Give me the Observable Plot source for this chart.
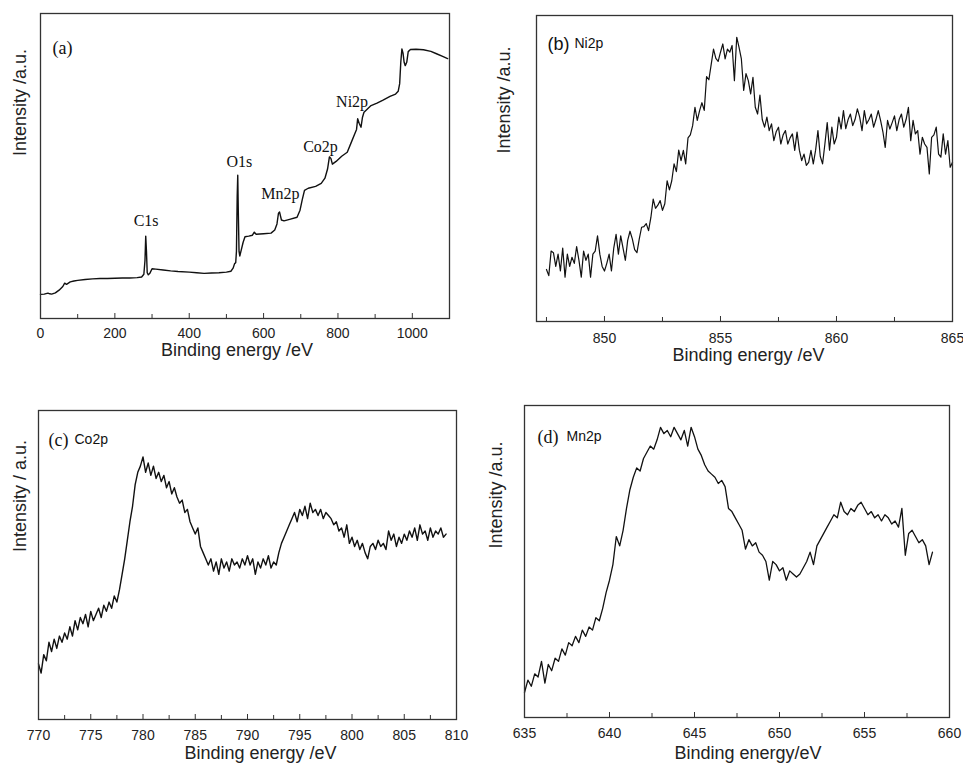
<!DOCTYPE html>
<html>
<head>
<meta charset="utf-8">
<script src="https://cdn.jsdelivr.net/npm/d3@7"></script>
<script src="https://cdn.jsdelivr.net/npm/@observablehq/plot@0.6"></script>
<style>
  html, body { margin: 0; padding: 0; background: #fff; }
  #root { position: relative; width: 963px; height: 768px; overflow: hidden; background: #fff; }
</style>
</head>
<body>
<div id="root"></div>
<script>
// ---------- DATA (intensity in arbitrary units, 0 = bottom of frame, 100 = top) ----------
// (a) survey spectrum
const surveyEnergy = [0,10,20,25,30,40,50,60,65,70,80,90,100,120,140,160,180,200,220,240,260,272,278,281,283,285,287,290,294,300,310,330,350,370,400,420,440,460,480,500,512,518,522,525,527,529,530.5,532,534,536,540,545,550,560,570,575,580,600,620,630,636,640,643,648,655,670,690,698,704,710,720,740,755,765,772,777,781,785,795,810,825,835,845,850,853,857,862,866,870,875,889,905,920,940,955,962,966,969,972,975,978,981,985,989,995,1010,1030,1050,1065,1080,1095];
const surveyIntensity = [7.9,8.0,8.3,8.1,8.0,8.4,9.3,10.5,11.6,11.2,12.0,12.3,12.5,12.8,13.0,13.1,13.1,13.2,13.3,13.3,13.4,13.6,14.5,19,27,22,15,14.3,14.8,16.3,16.2,15.9,15.6,15.4,15.2,15.0,14.8,14.9,15.0,15.2,15.5,16.5,18.0,18.3,22,40,47,35,22,20.5,22.5,25,26.8,27.0,27.3,28.3,27.6,27.8,28.0,29,31,34.5,34.9,32.3,32.0,32.5,33.2,35.5,39,42,42.7,43.3,44.3,46,49,53,52.5,50.6,51.5,53.2,54.5,57.5,60.5,62,65.5,64,62.7,66,67.6,68.2,69.8,70.6,71.5,72.8,73.6,74.5,77,84,88.4,87,84,82.9,84,87.5,88.2,88.3,88.1,87.6,86.8,86.0,85.2];
const peakLabels = ["C1s","O1s","Mn2p","Co2p","Ni2p"];
const peakLabelEnergy = [284,535,645,753,838];
const peakLabelIntensity = [32.1,51.5,40.7,56.2,71.1];

// (b) Ni2p, sampled every 0.1 eV from 847.5 eV
const niStart = 847.5, niStep = 0.1;
const niIntensity = [
17,15,23,22.5,18,22,16.5,24,14.5,22,
18,21,19,24.5,20,14.5,23,20,22,14.5,
22,23,28,22,18,16.5,19,22,16.5,24,
28.5,22,28,24,20,26.5,29.5,27,23.5,22.5,
27,30.8,31,32,29.7,34,40,37,38,39.5,
36.3,38.5,46,43,46,51.5,49,56,52.6,55.9,
51.5,60,61,64,70,65.7,68.9,71.5,69,80,
79,84,89,86,85,88,90.7,85.8,89,88,
90.2,78.7,92.9,89.6,85.8,75.5,81,78.7,74.4,79.8,
70,67.8,74,66,63.5,66.8,62.4,64.6,59.1,62,
63.5,58,61,62.4,58,60,61.3,55.9,61.9,56,
52.6,54.7,51,52,55.9,51.5,56,62.4,54,51.5,
58,65,56,63.5,58,60.2,66.8,62.9,68.9,63,
66,67.8,64,66,69.5,66.8,62.4,68.9,64.6,66,
67.8,63.5,66,68.9,65.7,62,56.9,65.7,62.9,65,
67.2,62.4,66,67.8,63.5,66,70,59.1,65.7,61.3,
62.4,54.7,60.2,58,56.9,48.2,60.2,61,63.5,54.7,
53.7,61.3,54.7,59.1,50.4,52];

// (c) Co2p, sampled every 0.25 eV from 770 eV
const coStart = 770, coStep = 0.25;
const coIntensity = [
18,15,21,19, 25,22,26,23, 27,25,28,26, 30,27,32,29, 33,31,34,30,
35,32,34,36, 33,37,35,38, 36,40,38,42, 47,52,58,64, 69,76,80,82,
85,80,83,79, 82,78,80,77, 79,75,77,73, 75,72,70,71, 67,68,64,62,
60,62,56,54, 52,50,52,48, 51,47,52,49, 51,48,52,50, 51,49,52,50,
53,50,52,47, 51,49,52,50, 53,49,51,50, 54,57,59,61, 63,65,67,64,
68,66,69,65, 70,67,68,66, 68,65,67,66, 65,63,64,61, 62,59,63,57,
59,56,58,55, 57,54,52,56, 57,55,58,56, 57,55,61,58, 60,56,59,57,
60,58,61,59, 62,58,63,60, 61,58,62,59, 61,60,62,59, 60];

// (d) Mn2p, sampled every 0.2 eV from 635 eV
const mnStart = 635, mnStep = 0.2;
const mnIntensity = [
8,12,10,14,13, 18,11,17,15,19, 18,22,20,24,23, 26,24,28,26,29,
28,32,31,35,40, 44,49,58,55,60, 67,73,77,80,79, 83,85,87,86,89,
93,91,92,90,93, 91,89,92,87,93, 90,86,84,81,79, 78,77,75,76,74,
67,66,64,62,60, 54,57,55,56,53, 52,50,44,50,49, 47,48,44,47,46,
45,46,48,50,53, 49,55,57,59,61, 63,65,64,69,66, 65,67,66,68,69,
67,65,66,64,65, 63,65,64,62,63, 61,67,52,59,60, 58,56,57,55,49, 53];

// axis ticks
const surveyMajor = [0,200,400,600,800,1000], surveyMinor = [100,300,500,700,900];
const niMajor = [850,855,860,865], niMinor = [847.5,852.5,857.5,862.5];
const coMajor = [770,775,780,785,790,795,800,805,810], coMinor = [772.5,777.5,782.5,787.5,792.5,797.5,802.5,807.5];
const mnMajor = [635,640,645,650,655,660], mnMinor = [637.5,642.5,647.5,652.5,657.5];

// ---------- BUILD ----------
const SANS = "Arial, 'Liberation Sans', sans-serif";
const SERIF = "'Times New Roman', 'Liberation Serif', serif";

const survey = surveyEnergy.map((e, i) => ({e, v: surveyIntensity[i]}));
const grid = (start, step, vals) => vals.map((v, i) => ({e: +(start + i * step).toFixed(3), v}));
const ni = grid(niStart, niStep, niIntensity);
const co = grid(coStart, coStep, coIntensity);
const mn = grid(mnStart, mnStep, mnIntensity);
const peaks = peakLabels.map((label, i) => ({label, e: peakLabelEnergy[i], v: peakLabelIntensity[i]}));

function panel(p) {
  const innerH = p.H - p.mt - p.mb;
  const svg = Plot.plot({
    width: p.W, height: p.H,
    marginLeft: p.ml, marginTop: p.mt, marginRight: p.mr, marginBottom: p.mb,
    x: {domain: p.domain, axis: null},
    y: {domain: [0, 100], axis: null},
    style: {fontFamily: SANS, background: "white", color: "#222", overflow: "visible"},
    marks: [
      Plot.line(p.data, {x: "e", y: "v", stroke: "#111", strokeWidth: p.sw}),
      Plot.tickX(p.majors, {x: d => d, insetTop: innerH - 5, stroke: "#333", strokeWidth: 1}),
      Plot.tickX(p.minors, {x: d => d, insetTop: innerH - 4, stroke: "#333", strokeWidth: 1}),
      Plot.axisX({ticks: p.majors, tickSize: 0, tickPadding: p.tickPad, fontSize: 14, tickFormat: d => String(d), label: null}),
      Plot.frame({stroke: "#333", strokeWidth: 1.3}),
      Plot.text([p.xTitle], {text: d => d, frameAnchor: "bottom", dx: p.xdx, dy: p.xdy, fontSize: 18, fill: "#222"}),
      Plot.text([p.yTitle], {text: d => d, frameAnchor: "left", rotate: -90, dx: p.ydx, dy: p.ydy, fontSize: 18, fill: "#222"}),
      ...p.extra
    ]
  });
  svg.style.position = "absolute";
  svg.style.left = p.left + "px";
  svg.style.top = p.top + "px";
  document.getElementById("root").appendChild(svg);
}

panel({
  data: survey, domain: [0, 1100], majors: surveyMajor, minors: surveyMinor, sw: 1.4,
  left: 0, top: 0, W: 460, H: 365, ml: 40, mt: 13, mr: 11, mb: 47, tickPad: 10,
  xTitle: "Binding energy /eV", xdx: -8, xdy: 37,
  yTitle: "Intensity /a.u.", ydx: -20, ydy: -10,
  extra: [
    Plot.text(["(a)"], {text: d => d, frameAnchor: "top-left", textAnchor: "start", dx: 12, dy: 28, fontSize: 18, fontFamily: SERIF, fill: "#111"}),
    Plot.text(peaks, {x: "e", y: "v", text: "label", fontSize: 16, fontFamily: SERIF, fill: "#111"})
  ]
});

panel({
  data: ni, domain: [847.07, 865], majors: niMajor, minors: niMinor, sw: 1.2,
  left: 480, top: 0, W: 483, H: 370, ml: 56, mt: 15, mr: 11, mb: 49, tickPad: 12,
  xTitle: "Binding energy /eV", xdx: 4, xdy: 39,
  yTitle: "Intensity /a.u.", ydx: -32, ydy: -15,
  extra: [
    Plot.text(["(b)"], {text: d => d, frameAnchor: "top-left", textAnchor: "start", dx: 11, dy: 22, fontSize: 18, fill: "#111"}),
    Plot.text(["Ni2p"], {text: d => d, frameAnchor: "top-left", textAnchor: "start", dx: 38, dy: 23, fontSize: 14, fill: "#111"})
  ]
});

panel({
  data: co, domain: [770, 810], majors: coMajor, minors: coMinor, sw: 1.4,
  left: 0, top: 380, W: 470, H: 388, ml: 38, mt: 30, mr: 14, mb: 49, tickPad: 11,
  xTitle: "Binding energy /eV", xdx: 13, xdy: 39,
  yTitle: "Intensity / a.u.", ydx: -18, ydy: -13,
  extra: [
    Plot.text(["(c)"], {text: d => d, frameAnchor: "top-left", textAnchor: "start", dx: 10, dy: 23, fontSize: 18, fontFamily: SERIF, fill: "#111"}),
    Plot.text(["Co2p"], {text: d => d, frameAnchor: "top-left", textAnchor: "start", dx: 36, dy: 24, fontSize: 14, fill: "#111"})
  ]
});

panel({
  data: mn, domain: [635, 660], majors: mnMajor, minors: mnMinor, sw: 1.3,
  left: 480, top: 380, W: 483, H: 388, ml: 44, mt: 25, mr: 14, mb: 51, tickPad: 11,
  xTitle: "Binding energy/eV", xdx: 11, xdy: 41,
  yTitle: "Intensity /a.u.", ydx: -28, ydy: -13,
  extra: [
    Plot.text(["(d)"], {text: d => d, frameAnchor: "top-left", textAnchor: "start", dx: 13, dy: 25, fontSize: 18, fontFamily: SERIF, fill: "#111"}),
    Plot.text(["Mn2p"], {text: d => d, frameAnchor: "top-left", textAnchor: "start", dx: 42, dy: 26, fontSize: 14, fill: "#111"})
  ]
});
</script>
</body>
</html>
